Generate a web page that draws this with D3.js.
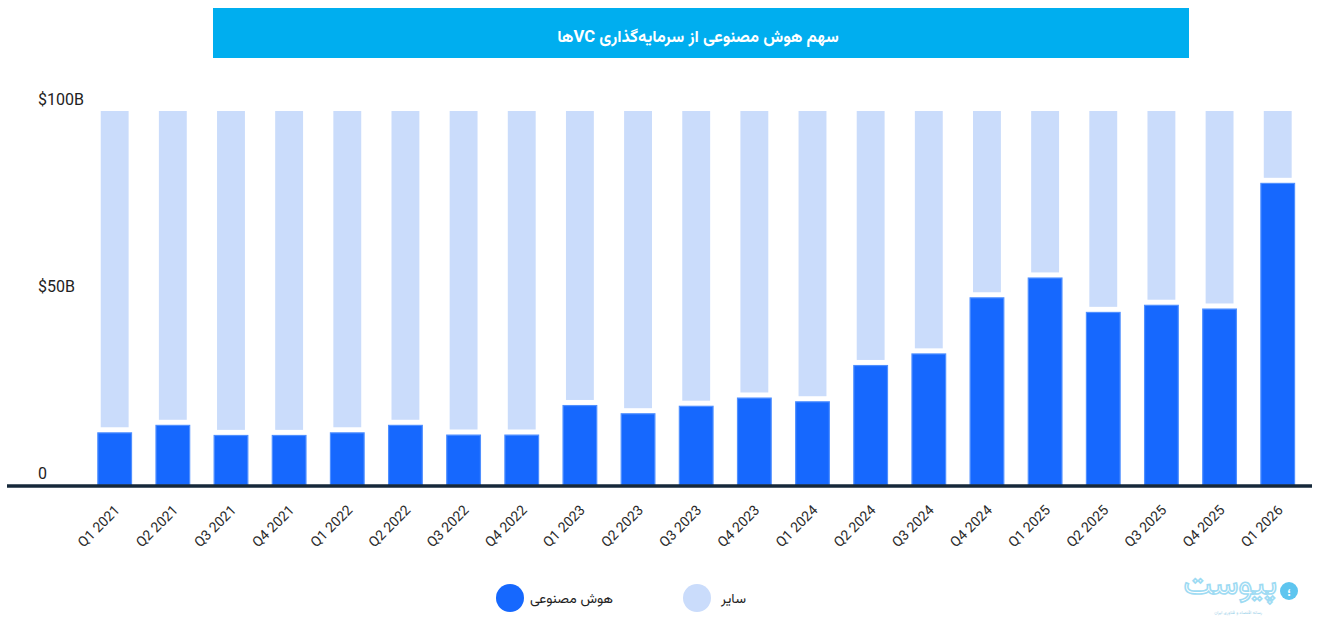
<!DOCTYPE html>
<html>
<head>
<meta charset="utf-8">
<script src="https://cdn.jsdelivr.net/npm/d3@7/dist/d3.min.js"></script>
<style>
  html, body { margin: 0; padding: 0; background: #ffffff; }
  svg { display: block; }
</style>
</head>
<body>
<svg id="chart" width="1320" height="624"></svg>
<script>
// ---- data ----
const categories = ["Q1 2021","Q2 2021","Q3 2021","Q4 2021","Q1 2022","Q2 2022","Q3 2022","Q4 2022",
  "Q1 2023","Q2 2023","Q3 2023","Q4 2023","Q1 2024","Q2 2024","Q3 2024","Q4 2024",
  "Q1 2025","Q2 2025","Q3 2025","Q4 2025","Q1 2026"];
const aiShare = [14.1, 16.1, 13.4, 13.4, 14.1, 16.1, 13.5, 13.5,
  21.4, 19.2, 21.2, 23.4, 22.4, 32.1, 35.2, 50.2,
  55.5, 46.3, 48.2, 47.2, 80.8];
const totalValue = 100;
const yTicks = [0, 50, 100];
const yTickLabels = ["0", "$50B", "$100B"];
const seriesNames = ["هوش مصنوعی", "سایر"];
const titleText = "سهم هوش مصنوعی از سرمایه‌گذاری VCها";

// ---- styles ----
const blue = "#1668fe", blueEdge = "#4f8fff", light = "#cadcfb";
const arabicFont = "Vazirmatn, 'DejaVu Sans', sans-serif";
const latinFont = "Roboto, 'Noto Sans', sans-serif";

const svg = d3.select("#chart");

// title banner
svg.append("rect").attr("x", 213).attr("y", 8).attr("width", 976).attr("height", 50).attr("fill", "#00aeef");
svg.append("text").attr("x", 698).attr("y", 42).attr("text-anchor", "middle")
  .attr("direction", "rtl")
  .attr("fill", "#ffffff").attr("font-family", arabicFont).attr("font-weight", "bold")
  .attr("font-size", 16.6).text(titleText);

// scales
const x = d3.scaleBand().domain(categories).range([85.6, 1306.8]).paddingInner(0.4).paddingOuter(0.2);
const y = d3.scaleLinear().domain([0, 100]).range([485, 111]);
const bw = x.bandwidth();
const lightInset = 3.5;
const gap = 5;

const g = svg.append("g");

// light "other" bars
g.selectAll("rect.other").data(categories).enter().append("rect")
  .attr("class", "other")
  .attr("x", d => x(d) + lightInset)
  .attr("width", bw - 2 * lightInset)
  .attr("y", y(totalValue))
  .attr("height", (d, i) => Math.max(0, y(aiShare[i]) - gap - y(totalValue)))
  .attr("fill", light);

// blue AI bars
g.selectAll("rect.ai").data(categories).enter().append("rect")
  .attr("class", "ai")
  .attr("x", d => x(d) + 0.6)
  .attr("width", bw - 1.2)
  .attr("y", (d, i) => y(aiShare[i]) + 0.6)
  .attr("height", (d, i) => y(0) - y(aiShare[i]) - 0.6)
  .attr("fill", blue)
  .attr("stroke", blueEdge).attr("stroke-width", 1.2);

// baseline
svg.append("line").attr("x1", 7).attr("x2", 1312).attr("y1", 486).attr("y2", 486)
  .attr("stroke", "#16283a").attr("stroke-width", 3.5);

// y tick labels
svg.selectAll("text.ytick").data(yTicks).enter().append("text")
  .attr("class", "ytick")
  .attr("x", 38).attr("y", d => y(d) - 6)
  .attr("font-family", latinFont).attr("font-size", 16).attr("fill", "#222")
  .text((d, i) => yTickLabels[i]);

// x axis labels
const xAxis = d3.axisBottom(x).tickSize(0).tickPadding(0);
const xg = svg.append("g").attr("transform", "translate(0,486)").call(xAxis);
xg.select(".domain").remove();
xg.selectAll(".tick text")
  .attr("font-family", latinFont).attr("font-size", 14).attr("fill", "#2a2a2a")
  .attr("text-anchor", "end")
  .attr("dy", 0).attr("y", 0)
  .attr("transform", "translate(6,25) rotate(-45)");

// legend
const legend = svg.append("g");
const legendItems = [
  { name: seriesNames[0], color: blue, cx: 510, tx: 613 },
  { name: seriesNames[1], color: light, cx: 697, tx: 746 }
];
legendItems.forEach(it => {
  legend.append("circle").attr("cx", it.cx).attr("cy", 598).attr("r", 14).attr("fill", it.color);
  legend.append("text").attr("x", it.tx).attr("y", 603).attr("text-anchor", "start")
    .attr("direction", "rtl")
    .attr("font-family", arabicFont).attr("font-size", 14).attr("fill", "#222").text(it.name);
});

// logo
const logo = svg.append("g");
logo.append("circle").attr("cx", 1289).attr("cy", 591).attr("r", 9).attr("fill", "#5ec5ef");
logo.append("text").attr("x", 1289).attr("y", 595.5).attr("text-anchor", "middle")
  .attr("font-family", arabicFont).attr("font-size", 12).attr("font-weight", "bold").attr("fill", "#fff").text("؛");
logo.append("text").attr("x", 1277).attr("y", 594).attr("text-anchor", "start").attr("direction", "rtl")
  .attr("font-family", arabicFont).attr("font-size", 32)
  .attr("fill", "#ffffff").attr("stroke", "#9edbf3").attr("stroke-width", 1.6).text("پیوست");
logo.append("text").attr("x", 1262).attr("y", 614).attr("text-anchor", "start").attr("direction", "rtl")
  .attr("font-family", arabicFont).attr("font-size", 4.5).attr("fill", "#9fd3ea").text("رسانه اقتصاد و فناوری ایران");
</script>
</body>
</html>
